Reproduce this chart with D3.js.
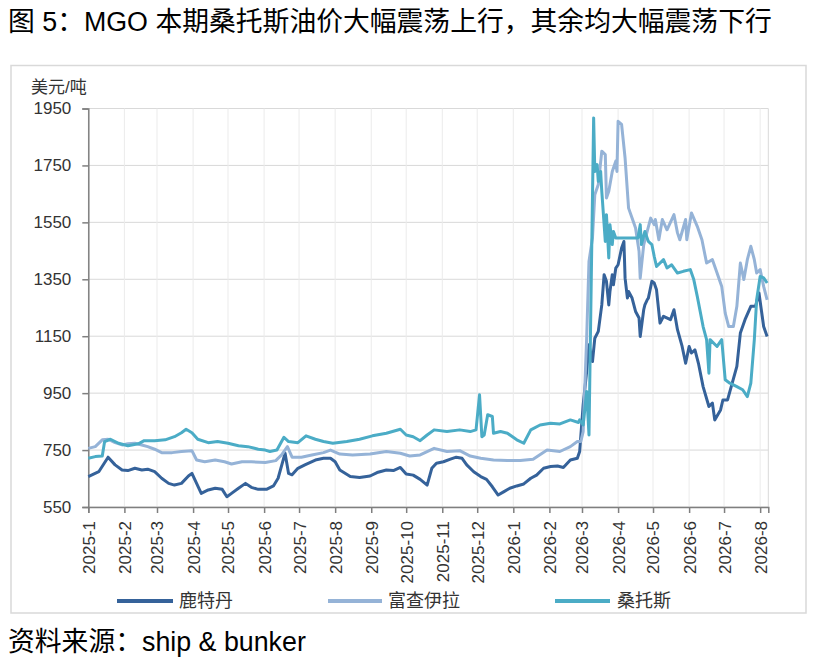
<!DOCTYPE html>
<html><head><meta charset="utf-8">
<script src="https://cdn.jsdelivr.net/npm/d3@7"></script>
<style>
html,body{margin:0;padding:0;background:#fff;}
svg{display:block;font-family:"Liberation Sans","Noto Sans CJK SC",Arial,sans-serif;}
</style></head>
<body>
<svg id="c" width="820" height="663"></svg>
<script>
// ---- data ----
const seriesNames = ["鹿特丹", "富查伊拉", "桑托斯"];
const yTicks = [550, 750, 950, 1150, 1350, 1550, 1750, 1950];

const rotterdamDates = ["2025-01-01","2025-01-10","2025-01-18","2025-01-24","2025-01-30","2025-02-04","2025-02-10","2025-02-16","2025-02-21","2025-02-27","2025-03-05","2025-03-11","2025-03-16","2025-03-22","2025-03-28","2025-03-31","2025-04-04","2025-04-08","2025-04-14","2025-04-20","2025-04-26","2025-04-30","2025-05-04","2025-05-10","2025-05-16","2025-05-21","2025-05-27","2025-06-03","2025-06-09","2025-06-13","2025-06-19","2025-06-22","2025-06-25","2025-06-30","2025-07-06","2025-07-15","2025-07-22","2025-07-28","2025-08-01","2025-08-05","2025-08-14","2025-08-22","2025-08-31","2025-09-06","2025-09-14","2025-09-20","2025-09-26","2025-10-01","2025-10-07","2025-10-13","2025-10-19","2025-10-23","2025-10-27","2025-11-02","2025-11-08","2025-11-13","2025-11-18","2025-11-22","2025-11-28","2025-12-04","2025-12-09","2025-12-14","2025-12-19","2025-12-24","2025-12-29","2026-01-04","2026-01-10","2026-01-16","2026-01-21","2026-01-27","2026-02-02","2026-02-08","2026-02-13","2026-02-19","2026-02-25","2026-02-27","2026-03-02","2026-03-05","2026-03-07","2026-03-10","2026-03-12","2026-03-15","2026-03-18","2026-03-20","2026-03-22","2026-03-24","2026-03-25","2026-03-27","2026-03-28","2026-03-30","2026-04-01","2026-04-04","2026-04-06","2026-04-07","2026-04-09","2026-04-10","2026-04-13","2026-04-16","2026-04-19","2026-04-20","2026-04-23","2026-04-24","2026-04-26","2026-04-27","2026-04-30","2026-05-02","2026-05-04","2026-05-07","2026-05-10","2026-05-16","2026-05-19","2026-05-22","2026-05-26","2026-05-29","2026-06-01","2026-06-03","2026-06-06","2026-06-09","2026-06-13","2026-06-18","2026-06-21","2026-06-23","2026-06-28","2026-06-30","2026-07-04","2026-07-08","2026-07-12","2026-07-15","2026-07-19","2026-07-24","2026-07-28","2026-07-31","2026-08-04","2026-08-07"];
const rotterdamPrices = [657,674,725,698,680,678,686,680,683,674,651,633,627,633,659,668,633,598,610,616,612,586,598,616,633,619,612,612,624,651,739,668,663,686,698,715,721,721,709,680,657,654,659,671,680,678,689,666,662,647,627,686,704,709,718,725,721,698,674,657,647,621,592,604,616,624,631,651,662,686,692,694,689,715,721,745,909,1026,1120,1061,1143,1167,1260,1366,1343,1260,1307,1366,1331,1389,1401,1460,1483,1354,1284,1307,1284,1237,1214,1149,1243,1260,1278,1284,1343,1337,1313,1196,1220,1208,1243,1173,1114,1055,1114,1091,1102,1055,973,903,915,856,891,926,926,985,1044,1161,1208,1255,1255,1302,1184,1149];

const fujairahDates = ["2025-01-01","2025-01-07","2025-01-13","2025-01-18","2025-01-24","2025-01-30","2025-02-04","2025-02-10","2025-02-16","2025-02-21","2025-02-27","2025-03-05","2025-03-14","2025-03-22","2025-03-31","2025-04-04","2025-04-11","2025-04-20","2025-04-28","2025-05-04","2025-05-13","2025-05-21","2025-06-02","2025-06-11","2025-06-16","2025-06-21","2025-06-25","2025-07-03","2025-07-12","2025-07-22","2025-07-28","2025-08-05","2025-08-16","2025-08-31","2025-09-14","2025-09-26","2025-10-04","2025-10-13","2025-10-25","2025-11-05","2025-11-16","2025-11-25","2025-12-04","2025-12-15","2025-12-27","2026-01-07","2026-01-18","2026-01-30","2026-02-10","2026-02-19","2026-02-25","2026-02-28","2026-03-02","2026-03-05","2026-03-07","2026-03-10","2026-03-12","2026-03-15","2026-03-18","2026-03-21","2026-03-22","2026-03-24","2026-03-27","2026-03-30","2026-03-31","2026-04-01","2026-04-04","2026-04-07","2026-04-10","2026-04-13","2026-04-16","2026-04-19","2026-04-20","2026-04-23","2026-04-26","2026-04-29","2026-05-02","2026-05-03","2026-05-06","2026-05-09","2026-05-13","2026-05-19","2026-05-22","2026-05-24","2026-05-29","2026-05-30","2026-06-03","2026-06-08","2026-06-12","2026-06-16","2026-06-21","2026-06-25","2026-06-29","2026-07-02","2026-07-05","2026-07-09","2026-07-12","2026-07-15","2026-07-18","2026-07-21","2026-07-24","2026-07-27","2026-07-29","2026-08-01","2026-08-04","2026-08-07"];
const fujairahPrices = [756,762,786,788,776,768,772,774,768,762,753,741,741,745,748,715,709,715,709,701,709,709,706,713,733,762,725,725,733,741,750,736,733,736,745,739,729,733,756,745,748,729,721,715,713,713,718,750,745,762,780,780,815,1143,1413,1495,1647,1683,1800,1788,1636,1659,1729,1765,1729,1905,1894,1776,1600,1565,1530,1448,1354,1471,1518,1565,1542,1560,1489,1560,1524,1577,1513,1489,1560,1489,1583,1536,1489,1407,1419,1372,1325,1231,1184,1184,1255,1407,1349,1419,1466,1419,1372,1384,1325,1278];

const santosDates = ["2025-01-01","2025-01-07","2025-01-13","2025-01-15","2025-01-20","2025-01-27","2025-02-04","2025-02-13","2025-02-18","2025-02-27","2025-03-08","2025-03-16","2025-03-22","2025-03-26","2025-03-31","2025-04-05","2025-04-14","2025-04-22","2025-05-01","2025-05-10","2025-05-18","2025-05-27","2025-06-02","2025-06-06","2025-06-12","2025-06-18","2025-06-22","2025-06-30","2025-07-07","2025-07-15","2025-07-22","2025-07-30","2025-08-11","2025-08-22","2025-09-02","2025-09-14","2025-09-26","2025-10-01","2025-10-07","2025-10-13","2025-10-19","2025-10-25","2025-11-05","2025-11-16","2025-11-25","2025-11-30","2025-12-03","2025-12-05","2025-12-07","2025-12-10","2025-12-14","2025-12-15","2025-12-21","2025-12-27","2026-01-04","2026-01-10","2026-01-16","2026-01-24","2026-02-02","2026-02-10","2026-02-19","2026-02-26","2026-02-27","2026-03-02","2026-03-05","2026-03-07","2026-03-11","2026-03-12","2026-03-14","2026-03-15","2026-03-17","2026-03-18","2026-03-20","2026-03-21","2026-03-22","2026-03-24","2026-03-25","2026-03-27","2026-03-28","2026-03-30","2026-04-01","2026-04-10","2026-04-18","2026-04-19","2026-04-20","2026-04-21","2026-04-24","2026-04-27","2026-04-30","2026-05-02","2026-05-04","2026-05-10","2026-05-13","2026-05-17","2026-05-22","2026-05-27","2026-06-02","2026-06-05","2026-06-08","2026-06-13","2026-06-16","2026-06-18","2026-06-19","2026-06-25","2026-06-29","2026-07-02","2026-07-06","2026-07-12","2026-07-17","2026-07-21","2026-07-24","2026-07-27","2026-07-29","2026-08-01","2026-08-04","2026-08-07"];
const santosPrices = [721,727,729,780,788,774,765,772,783,783,786,797,811,823,811,788,776,780,774,765,762,753,750,745,750,795,780,776,800,788,780,774,780,788,800,809,823,803,797,783,803,821,815,821,815,821,944,797,803,874,868,809,815,809,786,774,821,838,844,842,856,847,856,838,956,803,1917,1729,1753,1694,1729,1659,1542,1483,1577,1425,1542,1472,1518,1495,1495,1495,1495,1518,1542,1472,1518,1483,1472,1431,1395,1419,1390,1401,1372,1378,1384,1349,1290,1184,1138,1020,1138,1114,1138,997,985,973,962,938,985,1138,1278,1360,1355,1337];

const seriesColors = ["#35629A", "#95B3D7", "#4BACC6"];
const titleText = "图 5：MGO 本期桑托斯油价大幅震荡上行，其余均大幅震荡下行";
const sourceText = "资料来源：ship & bunker";
const unitText = "美元/吨";

// ---- chart ----
const parse = d3.timeParse("%Y-%m-%d");
const svg = d3.select("#c");
svg.append("rect").attr("width", 820).attr("height", 663).attr("fill", "#fff");

svg.append("text").attr("x", 8).attr("y", 31).attr("font-size", 26.8).attr("fill", "#000").text(titleText);
svg.append("rect").attr("x", 11).attr("y", 65.5).attr("width", 795).attr("height", 547.5)
  .attr("fill", "none").attr("stroke", "#D9D9D9").attr("stroke-width", 1.5);
svg.append("text").attr("x", 8).attr("y", 651).attr("font-size", 26.8).attr("fill", "#000").text(sourceText);

const L = 88.3, R = 768.3, T = 108.5, B = 507;
const x = d3.scaleTime().domain([parse("2025-01-01"), parse("2026-08-08")]).range([L, R]);
const y = d3.scaleLinear().domain([550, 1950]).range([B, T]);
const months = d3.timeMonth.range(parse("2025-01-01"), parse("2026-08-02"));

const g = svg.append("g");
// gridlines
g.selectAll("line.hg").data(yTicks).join("line").attr("class", "hg")
  .attr("x1", L).attr("x2", R).attr("y1", d => y(d)).attr("y2", d => y(d))
  .attr("stroke", "#D9D9D9").attr("stroke-width", 1);
g.selectAll("line.vg").data(months).join("line").attr("class", "vg")
  .attr("x1", d => x(d)).attr("x2", d => x(d)).attr("y1", T).attr("y2", B)
  .attr("stroke", "#EBEBEB").attr("stroke-width", 1);
g.append("line").attr("x1", R).attr("x2", R).attr("y1", T).attr("y2", B).attr("stroke", "#D9D9D9");

// axes
const yAxis = g.append("g").attr("transform", `translate(${L},0)`)
  .call(d3.axisLeft(y).tickValues(yTicks).tickSize(6).tickPadding(11).tickFormat(d3.format("d")));
const xAxis = g.append("g").attr("transform", `translate(0,${B})`)
  .call(d3.axisBottom(x).tickValues(months).tickSize(6).tickFormat(d3.timeFormat("%Y-%-m")));
[yAxis, xAxis].forEach(a => {
  a.select(".domain").attr("stroke", "#7F7F7F").attr("stroke-width", 1.5);
  a.selectAll(".tick line").attr("stroke", "#7F7F7F").attr("stroke-width", 1.5);
  a.selectAll("text").attr("font-size", 17).attr("fill", "#333")
    .attr("font-family", "'Liberation Sans', Arial, sans-serif");
});
xAxis.selectAll(".tick text")
  .attr("transform", "rotate(-90)").attr("text-anchor", "end")
  .attr("x", -14).attr("y", 0).attr("dy", "0.35em");

svg.append("text").attr("x", 31).attr("y", 93).attr("font-size", 17).attr("fill", "#333").text(unitText);

// lines
const series = [
  {name: seriesNames[0], dates: rotterdamDates, vals: rotterdamPrices, color: seriesColors[0]},
  {name: seriesNames[1], dates: fujairahDates, vals: fujairahPrices, color: seriesColors[1]},
  {name: seriesNames[2], dates: santosDates, vals: santosPrices, color: seriesColors[2]}
];
const line = d3.line().x(d => x(d[0])).y(d => y(d[1]));
series.forEach(s => {
  const pts = s.dates.map((d, i) => [parse(d), s.vals[i]]);
  g.append("path").datum(pts).attr("d", line).attr("fill", "none")
    .attr("stroke", s.color).attr("stroke-width", 3).attr("stroke-linejoin", "round");
});

// legend
const legendPos = [[117, 173, 179], [328, 382, 388], [555, 610, 617]];
series.forEach((s, i) => {
  const p = legendPos[i];
  svg.append("line").attr("x1", p[0]).attr("x2", p[1]).attr("y1", 601).attr("y2", 601)
    .attr("stroke", s.color).attr("stroke-width", 4);
  svg.append("text").attr("x", p[2]).attr("y", 607).attr("font-size", 18).attr("fill", "#333").text(s.name);
});
</script>
</body></html>
